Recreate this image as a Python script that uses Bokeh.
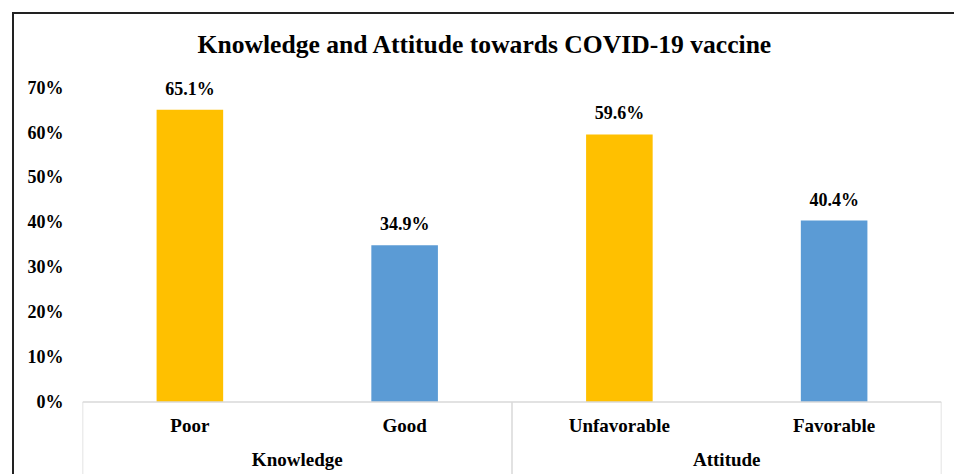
from bokeh.plotting import figure
from bokeh.models import FactorRange, Range1d, FixedTicker, NumeralTickFormatter, Span
from bokeh.core.properties import value
from bokeh.embed import file_html
from bokeh.resources import INLINE

# ---- data ----
title_text = "Knowledge and Attitude towards COVID-19 vaccine"
groups = ["Knowledge", "Knowledge", "Attitude", "Attitude"]
categories = ["Poor", "Good", "Unfavorable", "Favorable"]
values = [0.651, 0.349, 0.596, 0.404]
value_labels = ["65.1%", "34.9%", "59.6%", "40.4%"]
group_names = ["Knowledge", "Attitude"]
y_ticks = [0.0, 0.1, 0.2, 0.3, 0.4, 0.5, 0.6, 0.7]

# ---- styles ----
bar_colors = ["#FFC000", "#5B9BD5", "#FFC000", "#5B9BD5"]
FONT = value("Liberation Serif")
AXIS_GRAY = "#D9D9D9"

factors = list(zip(groups, categories))

x_range = FactorRange(*factors, factor_padding=0, group_padding=0, range_padding=0)
y_range = Range1d(-0.166, 0.863)

p = figure(
    x_range=x_range, y_range=y_range,
    width=942, height=462,
    output_backend="svg", toolbar_location=None,
    x_axis_location=None,
    min_border_left=68, min_border_right=15, min_border_top=0, min_border_bottom=0,
)
p.styles = {
    "margin-left": "12px", "margin-top": "12px", "margin-bottom": "-12px",
    "border-left": "2px solid #222", "border-top": "2px solid #222",
}

p.outline_line_color = None
p.xgrid.visible = False
p.ygrid.visible = False
p.background_fill_color = "white"
p.border_fill_color = "white"

yax = p.yaxis[0]
yax.ticker = FixedTicker(ticks=y_ticks)
yax.formatter = NumeralTickFormatter(format="0%")
yax.axis_line_color = None
yax.major_tick_line_color = None
yax.minor_tick_line_color = None
yax.major_label_standoff = 13
yax.major_label_text_font = "Liberation Serif"
yax.major_label_text_font_style = "bold"
yax.major_label_text_font_size = "18px"
yax.major_label_text_color = "#000000"

# chart title, anchored to the top-left of the plot area
p.text(x=[(groups[0], categories[0], -0.5)], y=[y_range.end], text=[title_text],
       text_align="left", text_baseline="middle", x_offset=115, y_offset=30,
       text_font=FONT, text_font_style="bold", text_font_size="25.6px", text_color="#000000")

# bars
p.vbar(x=factors, top=values, width=0.31, fill_color=bar_colors, line_color=None)

# value labels
p.text(x=factors, y=values, text=value_labels, text_align="center", text_baseline="middle",
       y_offset=-21, text_font=FONT, text_font_style="bold", text_font_size="18px",
       text_color="#000000")

# category axis box
p.add_layout(Span(location=0, dimension="width", line_color=AXIS_GRAY, line_width=1.5))
bounds = [(groups[0], categories[0], -0.5), (groups[2], categories[2], -0.5), (groups[3], categories[3], 0.5)]
p.segment(x0=bounds, y0=[0] * 3, x1=bounds, y1=[y_range.start] * 3, line_color=AXIS_GRAY, line_width=1.5)

# category labels
p.text(x=factors, y=[0] * 4, text=categories, text_align="center", text_baseline="middle",
       y_offset=24, text_font=FONT, text_font_style="bold", text_font_size="19px",
       text_color="#000000")

# group labels (at the boundary between the two categories of each group = group center)
group_centers = [(groups[0], categories[0], 0.5), (groups[2], categories[2], 0.5)]
p.text(x=group_centers, y=[0] * 2, text=group_names, text_align="center", text_baseline="middle",
       y_offset=58, text_font=FONT, text_font_style="bold", text_font_size="19px",
       text_color="#000000")

open("out.html", "w").write(file_html(p, INLINE))
